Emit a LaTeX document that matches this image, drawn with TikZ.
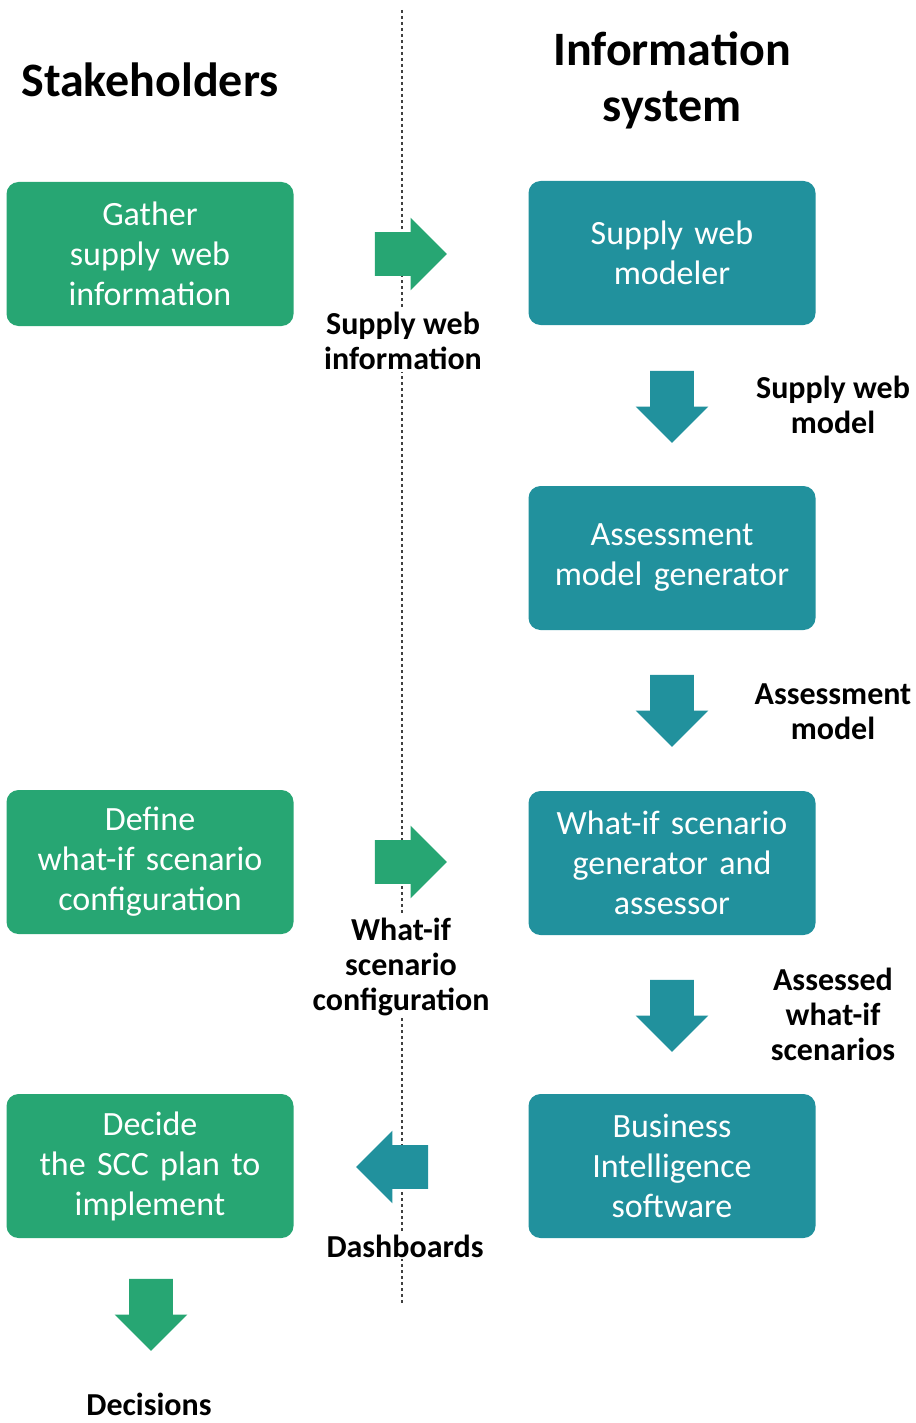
\documentclass[tikz,border=0pt]{standalone}
\usepackage{fontspec}
\setmainfont{Carlito}
\usetikzlibrary{shapes.arrows}

\definecolor{stakegreen}{RGB}{39,166,115}
\definecolor{systeal}{RGB}{33,145,157}

\begin{document}
\begin{tikzpicture}[x=0.5pt,y=-0.5pt,
    box/.style={rounded corners=6pt, minimum width=143.5pt, minimum height=72pt,
      text width=136pt, align=center, text=white, font=\fontsize{17}{20}\selectfont},
    stakebox/.style={box, fill=stakegreen},
    sysbox/.style={box, fill=systeal},
    flow/.style={single arrow, shape border rotate=#1, inner sep=10.75pt,
      single arrow head extend=7.25pt, minimum height=36pt},
    lbl/.style={align=center, fill=white, inner sep=1pt,
      font=\bfseries\fontsize{16}{17.5}\selectfont},
    head/.style={align=center, font=\bfseries\fontsize{24}{28}\selectfont}]
  \useasboundingbox (0,0) rectangle (915,1423);

  \draw[gray!50!black, line width=0.9pt, dash pattern=on 1.5pt off 1.5pt] (402,10) -- (402,1305);

  \node[head] (stake)   at (150,80) {Stakeholders};
  \node[head] (infosys) at (672,80) {Information\\system};

  \node[stakebox] (gather) at (150,254)  {Gather\\supply web\\information};
  \node[stakebox] (define) at (150,862)  {Define\\what-if scenario\\configuration};
  \node[stakebox] (decide) at (150,1166) {Decide\\the SCC plan to\\implement};

  \node[sysbox] (modeler)   at (672,253)  {Supply web\\modeler};
  \node[sysbox] (generator) at (672,558)  {Assessment\\model generator};
  \node[sysbox] (whatif)    at (672,863)  {What-if scenario\\generator and\\assessor};
  \node[sysbox] (bi)        at (672,1166) {Business\\Intelligence\\software};

  %% block arrows between the columns
  \node[flow=0,   fill=stakegreen] (a-info)   at (400,254)  {};
  \node[flow=0,   fill=stakegreen] (a-config) at (400,862)  {};
  \node[flow=180, fill=systeal]    (a-dash)   at (403,1167) {};
  \node[flow=270, fill=systeal]    (a-model)  at (672,396)  {};
  \node[flow=270, fill=systeal]    (a-assess) at (672,700)  {};
  \node[flow=270, fill=systeal]    (a-scen)   at (672,1005) {};
  \node[flow=270, fill=stakegreen] (a-dec)    at (151,1304) {};

  \node[lbl] (l-info)   at (403,341)  {Supply web\\information};
  \node[lbl] (l-config) at (401,967)  {What-if\\scenario\\configuration};
  \node[lbl] (l-dash)   at (405,1246) {Dashboards};
  \node[lbl] (l-model)  at (833,405)  {Supply web\\model};
  \node[lbl] (l-assess) at (833,712)  {Assessment\\model};
  \node[lbl] (l-scen)   at (833,1014) {Assessed\\what-if\\scenarios};
  \node[lbl, fill=none] (l-dec) at (149,1404) {Decisions};
\end{tikzpicture}
\end{document}
